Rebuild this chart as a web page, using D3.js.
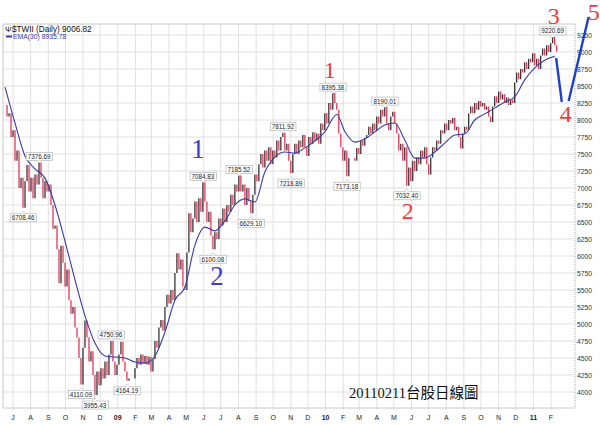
<!DOCTYPE html>
<html><head><meta charset="utf-8">
<script src="https://cdn.jsdelivr.net/npm/d3@7"></script>
<style>body{margin:0;background:#fff}svg{display:block}</style>
</head><body>
<svg id="c" width="600" height="425"></svg>
<script>
// ---------- DATA ----------
const seriesStart = "2008-06-17";
const seriesEnd = "2011-02-11";
const closes = [
8220,8050,8100,7750,7850,7400,7550,7000,7150,6708.46,
7100,7340,6950,7150,6850,7200,7050,7376.69,7150,6850,
7100,6950,7050,6750,6400,6450,6100,5600,6150,5900,
5550,5800,5350,5150,5250,4950,4800,4500,4110.09,4650,
5050,4800,4450,4600,4250,3955.43,4300,4100,4350,4200,
4450,4250,4550,4750.96,4450,4250,4400,4550,4740,4450,
4300,4164.19,4200,4200,4200,4350,4500,4400,4550,4420,
4530,4400,4520,4300,4480,4750,4650,4950,5060,4900,
5250,5430,5300,5500,5350,5750,6040,5800,5950,5550,
5500,6050,6630,6350,6550,6800,6500,6850,6650,7084.83,
6800,6500,6650,6300,6100.08,6350,6250,6550,6450,6700,
6500,6750,6650,6900,6750,7050,6950,7185.52,6950,7050,
6750,7000,6800,6629.10,6900,7200,7100,7350,7500,7300,
7550,7400,7600,7350,7550,7450,7700,7550,7750,7811.92,
7550,7650,7400,7218.89,7500,7650,7500,7700,7600,7780,
7600,7470,7750,7650,7820,7700,7800,7650,7950,7850,
8100,7950,8250,8150,8395.38,8250,8150,7800,7600,7400,
7550,7173.18,7440,7440,7440,7400,7590,7500,7700,7620,
7740,7780,7900,7800,7950,7850,8050,7950,8150,8050,
8190.01,7950,7850,8050,8120,7950,7800,7550,7650,7400,
7600,7032.40,7300,7100,7400,7250,7450,7350,7550,7450,
7600,7350,7200,7450,7600,7550,7700,7650,7850,7800,
7950,7850,8000,7950,8030,7850,7900,7750,7580,7800,
7900,7850,8100,8200,8100,8250,8150,8280,8200,8250,
8150,8200,8050,7970,8200,8350,8250,8420,8300,8380,
8250,8330,8220,8300,8250,8550,8700,8600,8750,8700,
8850,8750,8900,8850,8980,8800,8900,8750,8950,9050,
8950,9100,9000,9130,9220.69,9100,9006.82
];
// EMA(30): [sample index, value]
const emaPoints = [
[0,8485],[5,7955],[10,7470],[15,7280],[20,7145],[25,6750],[30,6220],[35,5650],
[40,5120],[45,4720],[50,4530],[55,4515],[60,4500],[65,4440],[70,4425],[75,4530],
[80,4880],[85,5350],[90,5545],[95,6160],[100,6425],[105,6370],[110,6515],[115,6750],
[120,6840],[125,6795],[130,7235],[135,7455],[140,7530],[145,7515],[150,7590],[155,7690],
[160,7825],[166,8080],[170,7830],[175,7675],[180,7720],[185,7825],[190,7925],[195,7955],
[200,7705],[205,7440],[210,7440],[215,7530],[220,7660],[225,7780],[230,7795],[235,8000],
[240,8090],[245,8175],[250,8265],[255,8340],[260,8590],[265,8765],[270,8880],[275,8935.78]
];
const yTickValues = [4000,4250,4500,4750,5000,5250,5500,5750,6000,6250,6500,6750,7000,
  7250,7500,7750,8000,8250,8500,8750,9000,9250];
const monthStarts = ["2008-07-01","2008-08-01","2008-09-01","2008-10-01","2008-11-01","2008-12-01",
  "2009-01-01","2009-02-01","2009-03-01","2009-04-01","2009-05-01","2009-06-01","2009-07-01",
  "2009-08-01","2009-09-01","2009-10-01","2009-11-01","2009-12-01","2010-01-01","2010-02-01",
  "2010-03-01","2010-04-01","2010-05-01","2010-06-01","2010-07-01","2010-08-01","2010-09-01",
  "2010-10-01","2010-11-01","2010-12-01","2011-01-01","2011-02-01"];
const monthLabels = ["J","A","S","O","N","D","09","F","M","A","M","J","J","A","S","O","N","D",
  "10","F","M","A","M","J","J","A","S","O","N","D","11","F"];
const highLabels = [7376.69, 4750.96, 7084.83, 7185.52, 7811.92, 8395.38, 8190.01, 9220.69];
const lowLabels = [6708.46, 4110.09, 3955.43, 4164.19, 6100.08, 6629.10, 7218.89, 7173.18, 7032.40];
const waveLabels = [
  {t:"1", at:7084.83, c:"#3c3cc8", s:27, dx:-5, dy:-24},
  {t:"2", at:6100.08, c:"#3c3cc8", s:27, dx:4, dy:36},
  {t:"1", at:8395.38, c:"#ee3b3b", s:23, dx:-3, dy:-15},
  {t:"2", at:7032.40, c:"#ee3b3b", s:24, dx:1, dy:33},
  {t:"3", at:9220.69, c:"#ee3b3b", s:24, dx:1, dy:-13}
];
const projection = [
  [["2011-02-10",8912],["2011-02-20",8265]],
  [["2011-03-04",8280],["2011-04-08",9515]]
];
const projLabels = [
  {t:"4", date:"2011-02-27", v:7970},
  {t:"5", date:"2011-04-17", v:9470}
];
const legendMain = "$TWII (Daily) 9006.82";
const legendEma = "EMA(30) 8935.78";
const caption = "20110211台股日線圖";

// ---------- SETUP ----------
const svg = d3.select("#c");
const sans = "'Liberation Sans', Arial, sans-serif";
const serif = "'Liberation Serif', 'Times New Roman', serif";
const parse = d3.utcParse("%Y-%m-%d");
const L = 3, R = 575, T = 24, B = 408;
const x = d3.scaleUtc().domain([parse("2008-07-01"), parse("2011-02-01")]).range([13, 551]);
const y = d3.scaleLinear().domain([4000, 9250]).range([392, 35]);
const idxDate = d3.scaleLinear().domain([0, closes.length - 1])
  .range([parse(seriesStart).getTime(), parse(seriesEnd).getTime()]);
const dates = closes.map((_, i) => new Date(idxDate(i)));

// grid
const grid = svg.append("g");
grid.selectAll("line.h").data(yTickValues).join("line")
  .attr("x1", L).attr("x2", R).attr("y1", d => y(d)).attr("y2", d => y(d))
  .attr("stroke", "#e0e0e0").attr("stroke-width", 1);
grid.selectAll("line.v").data(monthStarts).join("line")
  .attr("x1", d => x(parse(d))).attr("x2", d => x(parse(d))).attr("y1", T).attr("y2", B + 2)
  .attr("stroke", "#e0e0e0").attr("stroke-width", 1);
// frame
svg.append("line").attr("x1", L).attr("x2", R).attr("y1", T).attr("y2", T).attr("stroke", "#c8c8c8");
svg.append("line").attr("x1", L).attr("x2", R).attr("y1", B).attr("y2", B).attr("stroke", "#c8c8c8");
svg.append("line").attr("x1", L).attr("x2", L).attr("y1", T).attr("y2", B).attr("stroke", "#c8c8c8");
svg.append("line").attr("x1", R).attr("x2", R).attr("y1", T).attr("y2", B).attr("stroke", "#aaa")
  .attr("stroke-dasharray", "1,1");

// y labels
svg.append("g").selectAll("text").data(yTickValues).join("text")
  .attr("x", R + 2).attr("y", d => y(d)).attr("dominant-baseline", "central")
  .attr("font-family", sans).attr("font-size", 6.8).attr("fill", "#333").text(d => d);
// x labels
svg.append("g").selectAll("text").data(monthStarts).join("text")
  .attr("x", (d) => x(parse(d))).attr("y", 420).attr("text-anchor", "middle")
  .attr("font-family", sans).attr("font-size", 7).attr("fill", "#222")
  .attr("font-weight", (d, i) => /\d/.test(monthLabels[i]) ? "bold" : "normal")
  .text((d, i) => monthLabels[i]);

// bars
const bars = svg.append("g");
bars.selectAll("line").data(closes.slice(1)).join("line")
  .attr("x1", (d, i) => x(dates[i + 1])).attr("x2", (d, i) => x(dates[i + 1]))
  .attr("y1", (d, i) => y(closes[i])).attr("y2", d => y(d))
  .attr("stroke", (d, i) => d < closes[i] ? "#e0143c" : "#111")
  .attr("stroke-width", 1.1);

// EMA
svg.append("path").datum(emaPoints)
  .attr("d", d3.line().x(d => x(dates[d[0]])).y(d => y(d[1])).curve(d3.curveMonotoneX))
  .attr("fill", "none").attr("stroke", "#3a3aa8").attr("stroke-width", 1.1);

// value labels
const vl = svg.append("g");
function valueLabel(v, high) {
  const i = closes.indexOf(v);
  const cx = x(dates[i]), py = y(v);
  const cy = high ? py - 6 : py + 10;
  const g = vl.append("g");
  const t = g.append("text").attr("x", cx).attr("y", cy).attr("text-anchor", "middle")
    .attr("dominant-baseline", "central").attr("font-family", sans).attr("font-size", 6.3)
    .attr("fill", "#222").text(v.toFixed(2));
  const bb = t.node().getBBox();
  g.insert("rect", "text").attr("x", bb.x - 1.5).attr("y", cy - 4).attr("width", bb.width + 3)
    .attr("height", 8).attr("fill", "#fff").attr("stroke", "#aaa").attr("stroke-width", 0.6);
  const s = high ? 1 : -1;
  g.append("path").attr("d", `M${cx - 2.5},${cy + s * 4}L${cx},${cy + s * 6.5}L${cx + 2.5},${cy + s * 4}`)
    .attr("fill", "#fff").attr("stroke", "#aaa").attr("stroke-width", 0.6);
}
highLabels.forEach(v => valueLabel(v, true));
lowLabels.forEach(v => valueLabel(v, false));

// wave labels
waveLabels.forEach(w => {
  const i = closes.indexOf(w.at);
  svg.append("text").attr("x", x(dates[i]) + w.dx).attr("y", y(w.at) + w.dy)
    .attr("text-anchor", "middle").attr("font-family", serif)
    .attr("font-size", w.s).attr("fill", w.c).text(w.t);
});
// projection lines
projection.forEach(seg => {
  svg.append("path").datum(seg)
    .attr("d", d3.line().x(d => x(parse(d[0]))).y(d => y(d[1])))
    .attr("stroke", "#2040c8").attr("stroke-width", 2.4).attr("fill", "none");
});
projLabels.forEach(p => {
  svg.append("text").attr("x", x(parse(p.date))).attr("y", y(p.v)).attr("text-anchor", "middle")
    .attr("font-family", serif).attr("font-size", 24)
    .attr("fill", "#ee3b3b").text(p.t);
});

// legend
svg.append("text").attr("x", 5).attr("y", 32).attr("font-family", sans).attr("font-size", 8)
  .attr("fill", "#111").text("Ψ");
svg.append("text").attr("x", 12).attr("y", 32).attr("font-family", sans).attr("font-size", 8.2)
  .attr("fill", "#111").text(legendMain);
svg.append("line").attr("x1", 6).attr("x2", 12).attr("y1", 36.5).attr("y2", 36.5)
  .attr("stroke", "#3a3aa8").attr("stroke-width", 2);
svg.append("text").attr("x", 13).attr("y", 39).attr("font-family", sans).attr("font-size", 6.8)
  .attr("fill", "#3a3aa8").text(legendEma);

// caption
svg.append("text").attr("x", 349).attr("y", 398)
  .attr("font-family", "'Liberation Serif', 'Noto Sans CJK TC', serif").attr("font-size", 14.5)
  .attr("fill", "#111").text(caption);
</script>
</body></html>
